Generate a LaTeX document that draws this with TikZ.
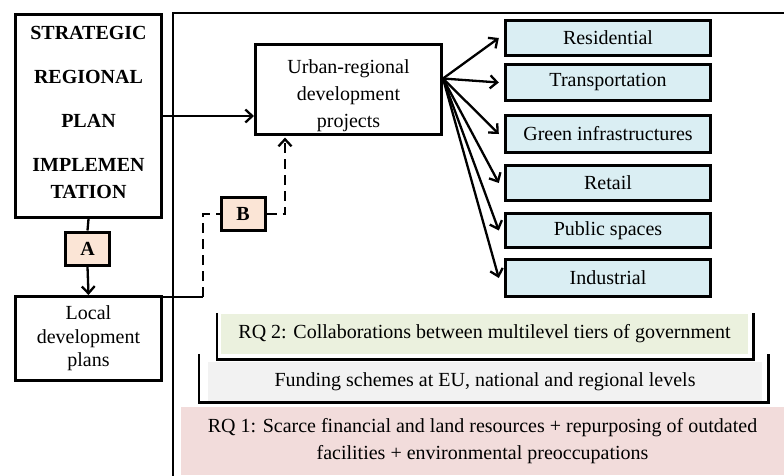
\documentclass[tikz,border=0pt]{standalone}
\usepackage{fontspec}
\setmainfont{Liberation Serif}
\usetikzlibrary{arrows.meta}
\definecolor{peach}{HTML}{FBE5D6}
\definecolor{catblue}{HTML}{DAEEF3}
\definecolor{rqgreen}{HTML}{EBF1DE}
\definecolor{fundgray}{HTML}{F2F2F2}
\definecolor{rqpink}{HTML}{F2DCDB}
\begin{document}
\begin{tikzpicture}[x=1pt,y=-1pt,
  box/.style={draw,line width=3pt,rectangle,inner sep=2pt,align=center,font=\fontsize{20}{25}\selectfont},
  catbox/.style={box,line width=3.4pt,fill=catblue,minimum width=205pt},
  lblbox/.style={box,fill=peach,font=\fontsize{20}{24}\selectfont\bfseries,minimum width=44pt,minimum height=33pt},
  band/.style={inner sep=0pt,align=center,font=\fontsize{20}{27}\selectfont},
  conn/.style={line width=2.3pt},
  arr/.style={-{Straight Barb[length=7pt,width=13pt]}},
  brk/.style={line width=2.6pt},
  dashline/.style={dash pattern=on 10pt off 6pt}
]
\useasboundingbox (0,0) rectangle (784,475);

% bands
\node[band,fill=rqgreen,minimum width=527pt,minimum height=40pt] (rq2) at (484.5,334) {RQ 2: Collaborations between multilevel tiers of government};
\node[band,fill=fundgray,minimum width=554pt,minimum height=40pt] (fund) at (485,382) {Funding schemes at EU, national and regional levels};
\node[band,fill=rqpink,minimum width=603pt,minimum height=68pt] (rq1) at (482.5,441) {RQ 1: Scarce financial and land resources + repurposing of outdated\\facilities + environmental preoccupations};
\draw[brk] ([shift={(-4,-1)}]rq2.north west) -- ([shift={(-4,5)}]rq2.south west) -- ([shift={(5,5)}]rq2.south east) -- ([shift={(5,-1)}]rq2.north east);
\draw[brk] ([shift={(-9,-8)}]fund.north west) -- ([shift={(-9,0)}]fund.south west) -- ([shift={(6,0)}]fund.south east) -- ([shift={(6,-8)}]fund.north east);

% frame
\draw[line width=2.8pt] (173,476) -- (173,13) -- (786,13);

% main boxes
\node[box,minimum width=146pt,minimum height=203pt,font=\fontsize{20}{27}\selectfont\bfseries] (strat) at (88.5,116)
  {STRATEGIC\\[17pt]REGIONAL\\[17pt]PLAN\\[17pt]IMPLEMEN\\TATION\\[-27pt]\strut};
\node[box,minimum width=186pt,minimum height=88pt,font=\fontsize{20}{27}\selectfont] (urban) at (348.5,89.5)
  {\strut\\[-19pt]Urban-regional\\development\\projects};
\node[box,minimum width=146pt,minimum height=84pt,font=\fontsize{20}{23.5}\selectfont] (local) at (88.5,338.5)
  {Local\\development\\plans};
\node[lblbox] (A) at (87.5,248.5) {A};
\node[lblbox] (B) at (243,214) {B};

% category boxes
\node[catbox,minimum height=35pt] (res) at (608,38) {Residential};
\node[catbox,minimum height=36pt] (trans) at (608,82.5) {Transportation};
\node[catbox,minimum height=37pt] (green) at (608,134) {Green infrastructures};
\node[catbox,minimum height=35pt] (retail) at (608,183) {Retail};
\node[catbox,minimum height=34pt] (public) at (608,230.5) {Public spaces};
\node[catbox,minimum height=37pt] (ind) at (608,278) {Industrial};

% connectors
\draw[conn,arr] (strat.east) -- (strat.east -| urban.west);
\draw[conn] (strat.south) -- (A.north);
\draw[conn,arr] (A.south) -- (local.north);

\coordinate (c1) at (203,297);
\coordinate (c2) at (285,214);
\draw[conn] ([yshift=-2pt]local.north east) -- (c1);
\draw[conn,dashline] (c1) |- (B.west);
\draw[conn,dashline,arr] (B.east) -| ([yshift=-2pt]c2 |- urban.south);

\coordinate (fan) at ([yshift=11pt]urban.east);
\foreach \n in {res,trans,green,retail,public,ind}
  \draw[conn,arr] (fan) -- ([xshift=-5pt]\n.west);
\end{tikzpicture}
\end{document}
